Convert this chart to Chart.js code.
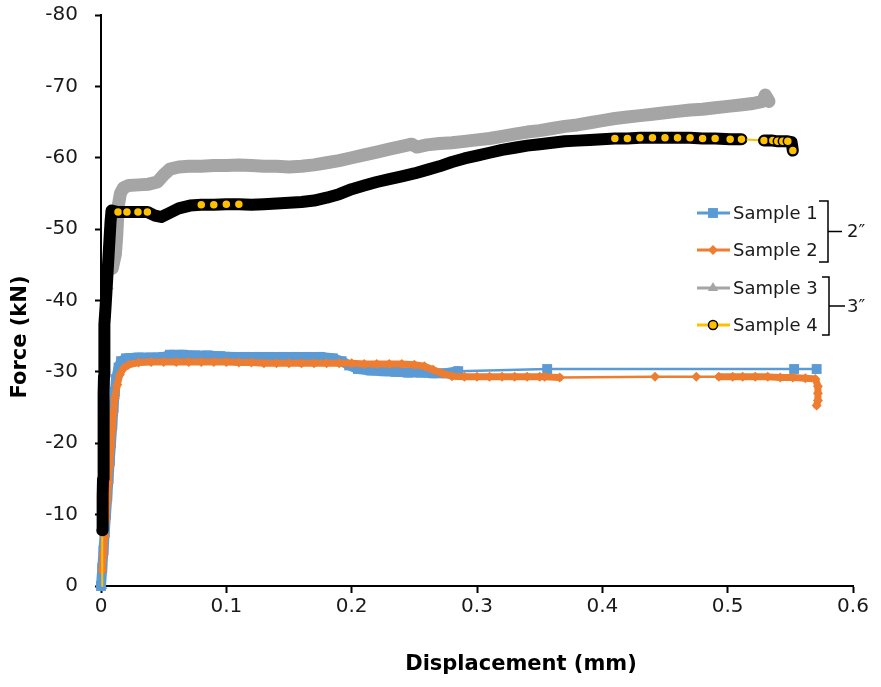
<!DOCTYPE html>
<html>
<head>
<meta charset="utf-8">
<script src="https://cdn.jsdelivr.net/npm/chart.js@4.4.1/dist/chart.umd.min.js"></script>
<style>
  html, body { margin: 0; padding: 0; background: #fff; }
  #wrap { width: 881px; height: 687px; }
</style>
</head>
<body>
<div id="wrap"><canvas id="force-chart" width="881" height="687"></canvas></div>
<script>
// displacement (mm), force (kN)
const sample1 = [
    [0.000, 0], [0.001, -2.5], [0.002, -5], [0.003, -7.5], [0.004, -10], [0.005, -12.5],
    [0.006, -15], [0.007, -17.5], [0.008, -20], [0.009, -22.5], [0.010, -25], [0.011, -27.2],
    [0.012, -29], [0.014, -30.6], [0.016, -31.5], [0.020, -31.9], [0.030, -32.0], [0.040, -32.0],
    [0.050, -32.1], [0.055, -32.4], [0.065, -32.4], [0.075, -32.3], [0.085, -32.3], [0.095, -32.2],
    [0.105, -32.1], [0.115, -32.1], [0.125, -32.1], [0.135, -32.1], [0.145, -32.1], [0.155, -32.1],
    [0.165, -32.1], [0.175, -32.1], [0.185, -31.9], [0.192, -31.5], [0.198, -30.9], [0.205, -30.4],
    [0.215, -30.2], [0.225, -30.1], [0.235, -30.0], [0.245, -29.9], [0.255, -29.9], [0.265, -29.8],
    [0.275, -29.8], [0.285, -30.1], [0.356, -30.4], [0.553, -30.4], [0.571, -30.4]
];

const sample2 = [
    [0.001, -2.2], [0.002, -4.5], [0.003, -7], [0.004, -9.5], [0.005, -12], [0.006, -14.5],
    [0.007, -17], [0.008, -19.5], [0.009, -22], [0.010, -24.3], [0.011, -26.3], [0.013, -28.2],
    [0.015, -29.6], [0.018, -30.5], [0.022, -31.0], [0.030, -31.3], [0.040, -31.4], [0.050, -31.4],
    [0.060, -31.4], [0.070, -31.4], [0.080, -31.4], [0.090, -31.4], [0.100, -31.4], [0.110, -31.3],
    [0.120, -31.3], [0.130, -31.2], [0.140, -31.2], [0.150, -31.2], [0.160, -31.2], [0.170, -31.2],
    [0.180, -31.2], [0.190, -31.2], [0.200, -31.2], [0.210, -31.1], [0.220, -31.1], [0.230, -31.1],
    [0.240, -31.1], [0.250, -31.0], [0.258, -30.8], [0.265, -30.3], [0.272, -29.8], [0.280, -29.4],
    [0.290, -29.3], [0.300, -29.3], [0.310, -29.3], [0.320, -29.3], [0.330, -29.3], [0.340, -29.3],
    [0.350, -29.3], [0.354, -29.3], [0.366, -29.2], [0.442, -29.3], [0.475, -29.3], [0.493, -29.3],
    [0.504, -29.3], [0.512, -29.3], [0.522, -29.3], [0.532, -29.3], [0.542, -29.2], [0.552, -29.2],
    [0.562, -29.1], [0.570, -29.0], [0.572, -28.0], [0.572, -27.0], [0.572, -26.0], [0.571, -25.3]
];

const sample3 = [
    [0.001, 0], [0.0015, -8], [0.002, -16], [0.0025, -24], [0.003, -32], [0.004, -38],
    [0.006, -42], [0.009, -44.5], [0.0115, -46.5], [0.0125, -48.9], [0.0132, -51.3], [0.0140, -53.5],
    [0.0155, -55.0], [0.018, -55.8], [0.022, -56.1], [0.030, -56.2], [0.038, -56.3], [0.045, -56.6],
    [0.050, -57.6], [0.055, -58.4], [0.062, -58.7], [0.07, -58.8], [0.08, -58.8], [0.09, -58.9],
    [0.10, -58.9], [0.11, -59.0], [0.12, -58.9], [0.13, -58.8], [0.14, -58.8], [0.15, -58.7],
    [0.16, -58.8], [0.17, -59.0], [0.18, -59.3], [0.19, -59.6], [0.20, -60.0], [0.21, -60.4],
    [0.22, -60.8], [0.23, -61.2], [0.24, -61.6], [0.248, -61.9], [0.252, -61.5], [0.26, -61.8],
    [0.27, -62.0], [0.28, -62.1], [0.29, -62.3], [0.30, -62.5], [0.31, -62.7], [0.32, -63.0],
    [0.33, -63.3], [0.34, -63.6], [0.35, -63.8], [0.36, -64.1], [0.37, -64.4], [0.38, -64.6],
    [0.39, -64.9], [0.40, -65.2], [0.41, -65.5], [0.42, -65.7], [0.43, -65.9], [0.44, -66.1],
    [0.45, -66.3], [0.46, -66.5], [0.47, -66.7], [0.48, -66.8], [0.49, -67.0], [0.50, -67.2],
    [0.51, -67.4], [0.52, -67.6], [0.528, -67.9], [0.530, -68.8], [0.533, -67.9]
];

const sample4 = [
    [0.001, 0], [0.001, -7.8], [0.0012, -10.2], [0.0014, -12.6], [0.0016, -15.0], [0.0018, -17.4],
    [0.0020, -19.8], [0.0021, -22.2], [0.0022, -24.6], [0.0023, -27.0], [0.0024, -29.4], [0.0025, -31.8],
    [0.0026, -34.2], [0.0030, -36.6], [0.0036, -39.0], [0.0044, -41.4], [0.0052, -43.8], [0.0060, -46.2],
    [0.0068, -48.6], [0.0076, -51.0], [0.0084, -52.6], [0.0136, -52.4], [0.0207, -52.4], [0.0295, -52.4],
    [0.037, -52.4], [0.043, -51.9], [0.048, -51.7], [0.054, -52.2], [0.062, -52.9], [0.071, -53.3],
    [0.08, -53.4], [0.09, -53.4], [0.10, -53.5], [0.11, -53.5], [0.12, -53.4], [0.13, -53.5],
    [0.14, -53.6], [0.15, -53.7], [0.16, -53.8], [0.17, -54.0], [0.18, -54.4], [0.19, -54.9],
    [0.20, -55.6], [0.21, -56.1], [0.22, -56.6], [0.23, -57.0], [0.24, -57.4], [0.25, -57.8],
    [0.26, -58.3], [0.27, -58.8], [0.28, -59.4], [0.29, -59.9], [0.30, -60.3], [0.31, -60.7],
    [0.32, -61.1], [0.33, -61.4], [0.34, -61.7], [0.35, -61.9], [0.36, -62.1], [0.37, -62.3],
    [0.38, -62.4], [0.39, -62.5], [0.40, -62.6], [0.41, -62.7], [0.42, -62.7], [0.43, -62.8],
    [0.44, -62.8], [0.45, -62.8], [0.46, -62.8], [0.47, -62.8], [0.48, -62.7], [0.49, -62.7],
    [0.502, -62.6], [0.511, -62.6], [0.529, -62.4], [0.536, -62.4], [0.540, -62.3], [0.544, -62.3],
    [0.548, -62.3], [0.551, -62.2], [0.552, -61.0]
];

const xTicks = [0, 0.1, 0.2, 0.3, 0.4, 0.5, 0.6];
const yTicks = [0, -10, -20, -30, -40, -50, -60, -70, -80];

const xTitle = 'Displacement (mm)';
const yTitle = 'Force (kN)';

// legend groups: specimen length for each pair of samples
const groupLabels = ['2\u2033', '3\u2033'];

const FONT = 'DejaVu Sans';

// close-together readings merge into a thick band, isolated ones get a thin line
const isDense = c => Math.hypot(c.p1.x - c.p0.x, c.p1.y - c.p0.y) < 18;

// sample 4 markers only stay readable where the force changes slowly
function flatPoint(ctx) {
    const d = ctx.dataset.data;
    const i = ctx.dataIndex;
    if (i === d.length - 1) return true;
    const slope = (a, b) => Math.abs((b.y - a.y) / Math.max(b.x - a.x, 1e-6));
    const s = [];
    if (i > 0) s.push(slope(d[i - 1], d[i]));
    if (i < d.length - 1) s.push(slope(d[i], d[i + 1]));
    return Math.min(...s) < 8;
}

const styles = [
    { label: 'Sample 1', data: sample1, line: '#5B9BD5', band: '#5B9BD5', bandWidth: 10, lineWidth: 2.5,
      pointStyle: 'rect', radius: 7, fill: '#5B9BD5', stroke: '#5B9BD5', strokeWidth: 0, order: 2 },
    { label: 'Sample 2', data: sample2, line: '#ED7D31', band: '#ED7D31', bandWidth: 7, lineWidth: 2.5,
      pointStyle: 'rectRot', radius: 5, fill: '#ED7D31', stroke: '#ED7D31', strokeWidth: 0, order: 1 },
    { label: 'Sample 3', data: sample3, line: '#A5A5A5', band: '#A5A5A5', bandWidth: 13, lineWidth: 2.5,
      pointStyle: 'triangle', radius: 6, fill: '#A5A5A5', stroke: '#A5A5A5', strokeWidth: 0, order: 3 },
    { label: 'Sample 4', data: sample4, line: '#FFC000', band: '#000000', bandWidth: 12, lineWidth: 2,
      pointStyle: 'circle', radius: 4.5, fill: '#FFC000', stroke: '#000000', strokeWidth: 1.5, order: 0,
      sparseMarks: true }
];

const datasets = styles.map(s => ({
    label: s.label,
    data: s.data.map(([x, y]) => ({ x, y })),
    borderColor: s.line,
    borderWidth: s.lineWidth,
    borderCapStyle: 'round',
    borderJoinStyle: 'round',
    segment: {
        borderWidth: c => isDense(c) ? s.bandWidth : s.lineWidth,
        borderColor: c => isDense(c) ? s.band : s.line
    },
    pointStyle: s.pointStyle,
    pointRadius: s.sparseMarks ? (c => flatPoint(c) ? s.radius : 0) : s.radius,
    pointBackgroundColor: s.fill,
    pointBorderColor: s.stroke,
    pointBorderWidth: s.strokeWidth,
    tension: 0,
    clip: 12,
    order: s.order
}));

// axis titles sit off-centre, so they are placed by hand
const axisTitles = {
    id: 'axisTitles',
    afterDraw(chart) {
        const ctx = chart.ctx;
        ctx.save();
        ctx.fillStyle = '#000';
        ctx.font = 'bold 21px "' + FONT + '"';
        ctx.textAlign = 'center';
        ctx.textBaseline = 'middle';
        ctx.fillText(xTitle, 521, 665);
        ctx.translate(21, 337);
        ctx.rotate(-Math.PI / 2);
        ctx.fillText(yTitle, 0, 0);
        ctx.restore();
    }
};

// legend on the right with brackets grouping the samples
const bracketLegend = {
    id: 'bracketLegend',
    afterDraw(chart) {
        const ctx = chart.ctx;
        const rowY = [213, 250, 288, 325];
        ctx.save();
        styles.forEach((s, i) => {
            const y = rowY[i];
            ctx.strokeStyle = s.line;
            ctx.lineWidth = 3;
            ctx.beginPath();
            ctx.moveTo(697, y);
            ctx.lineTo(730, y);
            ctx.stroke();
            ctx.fillStyle = s.fill;
            ctx.strokeStyle = s.stroke;
            ctx.lineWidth = s.strokeWidth;
            Chart.helpers.drawPoint(ctx, {
                pointStyle: s.pointStyle,
                radius: s.radius,
                rotation: 0,
                borderWidth: s.strokeWidth
            }, 713, y);
            ctx.fillStyle = '#1a1a1a';
            ctx.font = '18px "' + FONT + '"';
            ctx.textAlign = 'left';
            ctx.textBaseline = 'middle';
            ctx.fillText(s.label, 733, y + 1);
        });

        ctx.strokeStyle = '#000';
        ctx.lineWidth = 1.5;
        const brackets = [
            { top: 201, bottom: 262, x: 828, left: 819, tick: 842 },
            { top: 277, bottom: 335, x: 829, left: 822, tick: 845 }
        ];
        brackets.forEach((b, i) => {
            const mid = (b.top + b.bottom) / 2;
            ctx.beginPath();
            ctx.moveTo(b.left, b.top);
            ctx.lineTo(b.x, b.top);
            ctx.lineTo(b.x, b.bottom);
            ctx.lineTo(b.left, b.bottom);
            ctx.moveTo(b.x, mid);
            ctx.lineTo(b.tick, mid);
            ctx.stroke();
            ctx.fillStyle = '#1a1a1a';
            ctx.font = '18px "' + FONT + '"';
            ctx.textAlign = 'left';
            ctx.textBaseline = 'middle';
            ctx.fillText(groupLabels[i], 847, mid + 1);
        });
        ctx.restore();
    }
};

const tickFont = { family: FONT, size: 20 };

new Chart(document.getElementById('force-chart').getContext('2d'), {
    type: 'line',
    data: { datasets: datasets },
    options: {
        responsive: false,
        animation: false,
        devicePixelRatio: 1,
        layout: { padding: { left: 0, right: 28, top: 15, bottom: 0 } },
        plugins: {
            legend: { display: false },
            tooltip: { enabled: false }
        },
        scales: {
            x: {
                type: 'linear',
                min: 0,
                max: 0.6,
                afterBuildTicks: scale => { scale.ticks = xTicks.map(v => ({ value: v })); },
                afterFit: scale => {
                    scale.height = 101;
                    scale.paddingLeft = 0;
                    scale.paddingRight = 0;
                },
                ticks: {
                    font: tickFont,
                    color: '#1a1a1a',
                    padding: 2,
                    maxRotation: 0,
                    callback: v => String(Number(v.toFixed(1)))
                },
                grid: { drawOnChartArea: false, tickLength: 7, tickColor: '#000', tickWidth: 2 },
                border: { color: '#000', width: 2 }
            },
            y: {
                type: 'linear',
                min: -80,
                max: 0,
                reverse: true,
                afterBuildTicks: scale => { scale.ticks = yTicks.map(v => ({ value: v })); },
                afterFit: scale => {
                    scale.width = 101;
                    scale.paddingTop = 0;
                    scale.paddingBottom = 0;
                },
                ticks: {
                    font: tickFont,
                    color: '#1a1a1a',
                    padding: 17,
                    callback: v => String(v)
                },
                grid: { drawOnChartArea: false, tickLength: 6, tickColor: '#000', tickWidth: 2 },
                border: { color: '#000', width: 2 }
            }
        }
    },
    plugins: [axisTitles, bracketLegend]
});
</script>
</body>
</html>
